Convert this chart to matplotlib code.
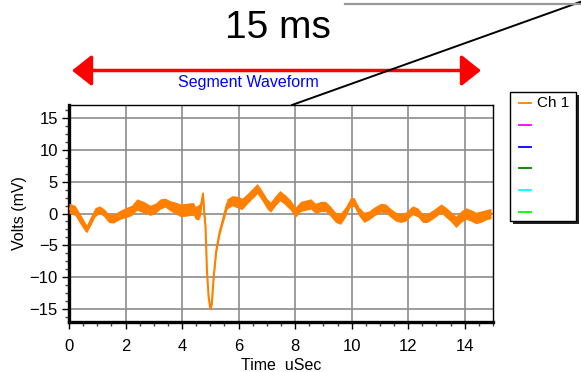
import matplotlib
matplotlib.use("Agg")
import matplotlib.pyplot as plt
from matplotlib.lines import Line2D
from matplotlib.patches import Rectangle, FancyArrowPatch
from matplotlib.ticker import MultipleLocator

plt.rcParams['font.family'] = ['Liberation Sans', 'DejaVu Sans']

# ---- data ----
time_us = [0.00, 0.21, 0.39, 0.57, 0.63, 0.74, 0.92, 1.08, 1.22, 1.40, 1.57, 1.81,
           2.05, 2.22, 2.40, 2.64, 2.87, 3.05, 3.23, 3.40, 3.58, 3.76, 3.94, 4.17,
           4.29, 4.41, 4.47, 4.59, 4.65, 4.74, 4.79, 4.83, 4.88, 4.94, 5.00, 5.05,
           5.12, 5.21, 5.33, 5.47, 5.59, 5.77, 5.95, 6.12, 6.30, 6.48, 6.66, 6.83,
           7.01, 7.13, 7.30, 7.46, 7.66, 7.84, 8.01, 8.19, 8.37, 8.55, 8.72, 8.90,
           9.08, 9.26, 9.43, 9.61, 9.79, 9.96, 10.08, 10.26, 10.44, 10.61, 10.79,
           11.03, 11.20, 11.38, 11.56, 11.74, 11.91, 12.15, 12.33, 12.51, 12.68,
           12.92, 13.16, 13.33, 13.51, 13.69, 13.87, 14.04, 14.22, 14.40, 14.57,
           14.75, 14.93]
volts_mv = [0.8, 0.5, -0.8, -2.1, -2.4, -1.4, 0.2, 0.6, 0.2, -0.7, -0.8, -0.2,
            0.2, 0.5, 1.4, 1.0, 0.5, 0.8, 1.5, 1.7, 1.2, 0.9, 0.5, 0.6,
            0.7, 0.7, 0.1, 0.2, 0.7, 3.1, -0.2, -2.1, -8.9, -13.1, -14.9, -14.2,
            -9.9, -5.8, -2.9, -0.6, 1.5, 2.0, 1.8, 1.5, 2.3, 3.1, 3.9, 2.8,
            1.5, 1.0, 2.0, 2.8, 2.1, 1.3, 0.2, 1.1, 1.3, 1.5, 0.8, 1.1,
            1.1, 0.3, -0.6, -0.8, 0.3, 1.8, 1.8, 0.3, -0.6, -0.3, 0.3,
            0.9, 0.8, 0.1, -0.5, -0.7, -0.5, 0.5, 0.2, -0.7, -0.7,
            0.0, 0.8, 0.2, -0.5, -1.3, -0.5, 0.0, -0.3, -0.7, -0.5,
            -0.2, 0.0]
noise_mv = [0.8, 0.8, 0.8, 0.7, 0.6, 0.7, 0.7, 0.6, 0.6, 0.7, 0.7, 0.7,
            0.8, 0.8, 0.9, 0.9, 0.8, 0.8, 0.8, 0.7, 0.8, 0.9, 1.0, 1.0,
            1.0, 1.0, 1.0, 1.2, 1.0, 0.5, 0.6, 0.4, 0.3, 0.3, 0.3, 0.3,
            0.3, 0.4, 0.5, 0.6, 0.8, 0.8, 0.9, 0.9, 0.8, 0.8, 0.8, 0.8,
            0.8, 0.8, 0.8, 0.8, 0.8, 0.8, 0.8, 0.8, 0.8, 0.8, 0.8, 0.8,
            0.8, 0.8, 0.8, 0.9, 0.8, 0.7, 0.7, 0.7, 0.8, 0.7, 0.7,
            0.7, 0.7, 0.7, 0.7, 0.7, 0.7, 0.7, 0.7, 0.7, 0.7,
            0.7, 0.7, 0.8, 0.8, 0.9, 0.9, 0.9, 0.9, 0.9, 0.9,
            0.8, 0.8]
x_ticks = [0, 2, 4, 6, 8, 10, 12, 14]
y_ticks = [-15, -10, -5, 0, 5, 10, 15]
legend_labels = ['Ch 1', '', '', '', '', '']
legend_colors = ['#FF8000', '#FF00FF', '#0000FF', '#008000', '#00FFFF', '#00FF00']
title_text = '15 ms'
segment_text = 'Segment Waveform'

W, H = 581, 372
fig = plt.figure(figsize=(W / 100, H / 100), dpi=100)
fig.patch.set_facecolor('white')


def P(x, y):
    return (x / W, 1 - y / H)


ax = fig.add_axes([69 / W, 1 - 322 / H, (493 - 69) / W, (322 - 105) / H])
lower = [v - n for v, n in zip(volts_mv, noise_mv)]
upper = [v + n for v, n in zip(volts_mv, noise_mv)]
ax.fill_between(time_us, lower, upper, color=legend_colors[0], lw=0, zorder=3)
ax.plot(time_us, volts_mv, color=legend_colors[0], lw=1.5, zorder=4)

ax.set_xlim(0, 15)
ax.set_ylim(-17, 17)
ax.set_xticks(x_ticks)
ax.set_yticks(y_ticks)
ax.xaxis.set_minor_locator(MultipleLocator(0.5))
ax.yaxis.set_minor_locator(MultipleLocator(1.25))
ax.grid(True, which='major', color='#8c8c8c', lw=1.2, zorder=1)
ax.tick_params(which='major', direction='out', length=5, width=1, labelsize=12,
               colors='black')
ax.tick_params(axis='x', which='major', pad=7)
ax.tick_params(axis='y', which='major', pad=3)
ax.tick_params(which='minor', direction='out', length=3, width=1, colors='#444444')
for s in ['left', 'bottom']:
    ax.spines[s].set_linewidth(2.4)
for s in ['top', 'right']:
    ax.spines[s].set_linewidth(1.0)
ax.set_xlabel('Time  uSec', fontsize=11.5, labelpad=3)
ax.set_ylabel('Volts (mV)', fontsize=11.5, labelpad=2)

# top annotations
fig.text(*P(278, 28), title_text, fontsize=28, ha='center', va='center')
fig.text(*P(248, 82), segment_text, fontsize=11.5, color='#0000FF', ha='center', va='center')
arrow = FancyArrowPatch(P(72, 70.5), P(481, 70.5), transform=fig.transFigure,
                        arrowstyle='<|-|>,head_length=12,head_width=9.5',
                        mutation_scale=1, color='#FF0000', lw=2.5,
                        shrinkA=0, shrinkB=0)
fig.add_artist(arrow)
fig.add_artist(Line2D([P(292, 105)[0], P(581, 1.7)[0]], [P(292, 105)[1], P(581, 1.7)[1]],
                      transform=fig.transFigure, color='black', lw=1.4))
fig.add_artist(Line2D([P(345, 4)[0], 1.0], [P(345, 4)[1], P(345, 4)[1]],
                      transform=fig.transFigure, color='#999999', lw=1.6))

# legend box (manual)
lx0, ly0, lx1, ly1 = 510, 92, 576, 221
shadow = Rectangle(P(lx0 + 3, ly1 + 3), (lx1 - lx0) / W, (ly1 - ly0) / H,
                   transform=fig.transFigure, facecolor='#222222', edgecolor='none')
fig.add_artist(shadow)
box = Rectangle(P(lx0, ly1), (lx1 - lx0) / W, (ly1 - ly0) / H,
                transform=fig.transFigure, facecolor='white', edgecolor='black', lw=1.0)
fig.add_artist(box)
for i, (lab, col) in enumerate(zip(legend_labels, legend_colors)):
    yy = 103 + i * 21.8
    fig.add_artist(Line2D([P(519, yy)[0], P(531, yy)[0]], [P(519, yy)[1]] * 2,
                          transform=fig.transFigure, color=col, lw=1.3))
    if lab:
        fig.text(*P(537, yy), lab, fontsize=11, ha='left', va='center')

fig.savefig('out.png', dpi=100)
